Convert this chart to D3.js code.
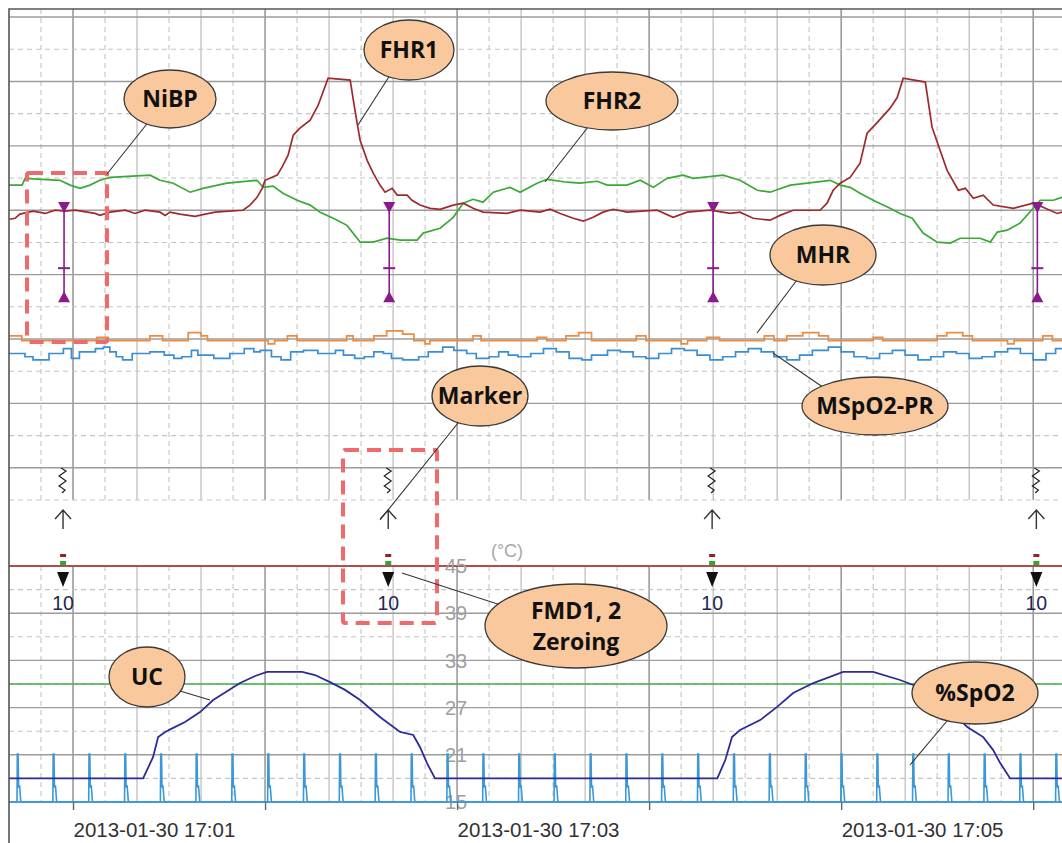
<!DOCTYPE html>
<html lang="en">
<head>
<meta charset="UTF-8">
<title>CTG trace</title>
<script src="https://cdn.jsdelivr.net/npm/d3@7"></script>
<style>
    body { margin: 0; background: #ffffff; }
    svg text { font-family: "Liberation Sans", Arial, sans-serif; }
    .callout text { font-family: "Open Sans", "Noto Sans", sans-serif; font-weight: 700; fill: #111111; }
</style>
</head>
<body>
<svg id="chart" width="1062" height="843"></svg>
<script>
    // time in seconds after 17:00:00, heart rates in bpm
    var FHR1 = [[40,147.2],[41.9,147.5],[43.4,148.8],[47.5,149.7],[51.3,149],[54.4,150],[57.5,149.7],[60.6,150],[66.9,149],[68.4,148.4],[71.6,149.4],[76.3,150],[79.4,149],[82.5,150],[87.2,149.4],[88.8,148.4],[90.3,149.4],[93.4,148.8],[98.1,148.1],[101.3,148.8],[104.4,149.4],[113.1,150],[115.3,151.6],[117.5,154],[119.1,156.8],[120,159.3],[123.8,160.9],[125.3,163.4],[127.2,167.1],[128.8,173.3],[130.9,175.5],[134.1,178],[136.6,182.6],[139.7,191],[146.6,190.4],[148.1,181],[149.7,171.7],[151.9,165.5],[153.8,161.5],[155.9,157.8],[157.5,155.6],[159.7,156.8],[161.3,154.7],[164.4,154.7],[165.9,153.1],[168.4,151.6],[171.6,150.6],[174.7,150.3],[178.8,151.6],[181.9,152.2],[185,150.6],[188.1,149.4],[195.6,149],[199.7,150],[205.9,149.4],[209.1,150.3],[212.2,149],[216.3,147.5],[219.4,146.6],[222.5,147.8],[225.6,149.4],[228.8,150.3],[233.1,149.4],[242.5,150],[247.5,147.8],[251.9,149.4],[259.1,150],[265.3,149],[268.4,149.4],[272.5,147.5],[277.8,146.9],[280.9,148.4],[285,150],[293.4,150],[295.6,152.2],[297.5,156.2],[299.7,158.4],[302.8,160.2],[305.9,164.6],[308.1,173.9],[311.3,177.3],[315.3,181.7],[317.5,185],[319.4,191],[326.3,189.8],[328.4,175.8],[330.9,168.6],[333.1,162.4],[336.6,156.2],[338.8,156.8],[341.3,153.7],[344.4,154.7],[347.5,151.6],[353.8,150.6],[360,152.2],[363.1,150.9],[367.5,149],[369,149.4]];

    var FHR2 = [[40,157.8],[44.1,157.8],[45,159.9],[55.9,159.3],[59.1,157.8],[62.2,156.8],[65.3,157.8],[68.4,159.3],[71.6,160.2],[84.1,160.9],[87.2,159.3],[91.3,158.4],[96.6,155.6],[100.6,156.8],[108.1,158.4],[117.5,159.3],[119.4,157.1],[122.5,157.5],[125.6,155.3],[130,153.1],[134.1,151.6],[137.2,149.4],[141.3,147.5],[145.6,145.3],[149.7,140.1],[153.8,140.1],[158.1,141.3],[162.2,140.7],[167.5,140.7],[169.4,142.9],[174.7,144.4],[178.8,147.8],[181.9,152.2],[185,153.4],[188.1,152.5],[191.3,155.6],[196.6,157.1],[199.7,155.6],[205,158.4],[208.1,159.6],[214.4,158.7],[218.4,158.4],[223.8,159],[226.9,157.8],[233.1,157.8],[237.2,159.3],[241.3,157.1],[245.6,159.9],[250.6,160.9],[253.8,159.9],[263.1,160.9],[268.4,159.3],[273.8,156.2],[277.8,155.6],[284.1,157.8],[289.4,158.4],[296.6,159.3],[299.7,157.8],[302.8,157.1],[305.9,155.3],[310,153.1],[315.3,150.6],[318.4,149],[322.2,147.5],[325.6,142.9],[330,140.1],[334.1,139.8],[337.2,141.3],[343.4,141.3],[346.6,140.1],[348.8,143.2],[351.9,143.8],[355.9,146],[360,150.6],[362.2,153.1],[366.3,153.1],[369,154]];

    var MHR = [[40,111],[44,109.5],[67.5,110.5],[71,109.5],[84,111],[88,109.5],[96,112],[100,111],[102,109.5],[121,108.5],[123,109.5],[127,111],[130,109.5],[145.5,111],[147.5,109.5],[154,111],[158,112.5],[163,111.5],[166.5,109.5],[170,108.5],[171.5,109.5],[185,111],[187.5,109.5],[205,110.5],[208,109.5],[214,111],[218,112],[222,109.5],[236,111],[239,109.5],[250,108.5],[252,109.5],[258,110.5],[262,109.5],[276,111],[279,109.5],[283,111],[288,112],[293,111],[296,109.5],[310,110.5],[313,109.5],[330,111],[333,112],[338,111],[341,109.5],[352,108.5],[354,109.5],[363,111],[366,109.5],[369,109.5]];

    var SPO2_PR = [[40,105.5],[45,104.5],[47.5,103.5],[52.5,105.5],[57,107],[59.5,104],[62,106],[67,107],[69.5,107.5],[71.5,106],[73.5,104.5],[75.5,103.5],[78.5,105.5],[84,106],[88.5,105],[91.5,104],[94,104.5],[97,106.5],[99,105],[104,104],[109,105.5],[113.5,107],[116.5,106],[118.5,106.5],[122,104.5],[125,103.5],[128,106],[132,106.5],[136.5,105.5],[142,106.5],[144.5,105],[148,104],[151,104.5],[154,106],[157,105.5],[159.5,104],[163,103.5],[168,104.5],[171,106],[175.5,107.5],[179,106.5],[183,105.5],[186,104],[190,104.5],[193,106],[196,105],[199,104.5],[203,105.5],[207,107],[211,106],[215,104],[219,103.5],[222,105],[227,106.5],[231,106],[235,104.5],[239,104],[243,105.5],[247,107],[251,106.5],[255,105],[259,103.5],[263,104.5],[267,106],[271,107],[275,106],[279,104.5],[283,103.5],[287,105],[291,106.5],[296,107.5],[300,106],[304,104.5],[308,104],[312,105.5],[316,106.5],[320,105],[324,103.5],[328,104.5],[332,106],[336,105.5],[340,104],[344,104.5],[348,106],[352,107],[356,105.5],[360,103.5],[364,105.5],[367,107],[369,107]];

    // uterine contraction (0-100)
    var UC = [[40,10],[81.9,10],[83.4,14.4],[85,19],[86.6,27.5],[88.8,29.7],[91.3,31.4],[95,33.9],[99.7,38.1],[103.8,43.2],[112.2,50.4],[116.9,53.4],[120.6,55.1],[131.6,55.1],[135.6,53.8],[140.3,50.8],[145,47.5],[149.7,43.2],[155.9,36],[162.2,29.7],[166.3,28.4],[168.4,23.3],[170.6,16.5],[173.1,10],[261.3,10],[263.8,17.8],[265.9,27.5],[268.4,30.5],[274.7,34.7],[280,40.3],[285,46.2],[291.3,50.4],[300.6,55.1],[310,55.1],[318.4,51.7],[322.5,49.6],[330.9,43.2],[339.4,31.8],[344.4,27.5],[347.5,22],[349.7,16.5],[352.8,10],[369,10]];

    // %SpO2 pleth beats (start times) and shape of one beat
    var BEATS = [42.5,53.7,64.9,76.1,87.3,98.4,109.6,120.8,132.0,143.2,154.4,165.6,176.8,188.0,199.2,210.3,221.5,232.7,243.9,255.1,266.3,277.5,288.7,299.9,311.1,322.3,333.4,344.6,355.8,367.0];
    var BEAT_SHAPE = [[0,0],[0.1,100],[0.35,100],[0.5,30],[0.8,35],[1.2,0]];

    // NiBP readings
    var NIBP_TIMES = [57.2, 158.8, 260, 361.3];
    var NIBP_SYS = [151, 151, 151, 151];
    var NIBP_MAP = [132, 132, 132, 132];
    var NIBP_DIA = [123, 123, 123, 123];

    // event markers / FMD zeroing
    var MARK_TIMES = [57.2, 158.8, 260, 361.3];
    var MARK_LABELS = ["10", "10", "10", "10"];

    var TEMP_TICKS = [45, 39, 33, 27, 21, 15];
    var TEMP_LIMITS = [45, 30];
    var TIME_LABEL_TICKS = [60, 180, 300];

    var CALLOUTS = [
        {lines: ["NiBP"], cx: 170, cy: 99, rx: 46, ry: 29, from: [150, 120], to: [107, 174]},
        {lines: ["FHR1"], cx: 409, cy: 50, rx: 45, ry: 30, from: [392, 72], to: [358, 125]},
        {lines: ["FHR2"], cx: 612, cy: 101, rx: 66, ry: 29, from: [592, 122], to: [545, 182]},
        {lines: ["MHR"], cx: 823, cy: 255, rx: 53, ry: 30, from: [800, 276], to: [757, 333]},
        {lines: ["MSpO2-PR"], cx: 875, cy: 406, rx: 73, ry: 29, from: [830, 392], to: [773, 353]},
        {lines: ["Marker"], cx: 480, cy: 396, rx: 48, ry: 30, from: [462, 418], to: [380, 520]},
        {lines: ["FMD1, 2", "Zeroing"], cx: 576, cy: 626, rx: 91, ry: 42, from: [510, 608], to: [402, 573]},
        {lines: ["UC"], cx: 147, cy: 677, rx: 38, ry: 30, from: [170, 688], to: [210, 700]},
        {lines: ["%SpO2"], cx: 975, cy: 693, rx: 63, ry: 31, from: [952, 715], to: [910, 765]}
    ];

    var LEFT = 9, RIGHT = 1062, TOP = 9, UP_BOTTOM = 500, LOW_TOP = 566, LOW_BOTTOM = 802;

    var svg = d3.select("#chart");

    var x = d3.scaleLinear().domain([40, 369]).range([LEFT, RIGHT]);
    var yHR = d3.scaleLinear().domain([60, 212.5]).range([UP_BOTTOM, TOP]);
    var yTemp = d3.scaleLinear().domain([15, 45]).range([LOW_BOTTOM, LOW_TOP]);
    var yUC = d3.scaleLinear().domain([0, 100]).range([LOW_BOTTOM, LOW_TOP]);
    var yPleth = d3.scaleLinear().domain([0, 100]).range([LOW_BOTTOM, 754]);

    // ---- grid
    var grid = svg.append("g");
    var vTicks = d3.range(50, 370, 10);
    function vStyle(sel) {
        sel.attr("stroke", function(t){ return t % 60 === 0 ? "#8c8c8c" : (t % 20 === 0 ? "#b4b4b4" : "#c4c4c4"); })
           .attr("stroke-width", function(t){ return t % 60 === 0 ? 1.4 : 1.1; })
           .attr("stroke-dasharray", function(t){ return t % 20 === 0 ? null : "5,4"; });
    }
    [[TOP, UP_BOTTOM], [LOW_TOP, LOW_BOTTOM]].forEach(function(r){
        grid.append("g").selectAll("line").data(vTicks).enter().append("line")
            .attr("x1", x).attr("x2", x).attr("y1", r[0]).attr("y2", r[1])
            .call(vStyle);
    });

    var hrLines = d3.range(60, 211, 10);
    grid.append("g").selectAll("line").data(hrLines).enter().append("line")
        .attr("x1", LEFT).attr("x2", RIGHT)
        .attr("y1", yHR).attr("y2", yHR)
        .attr("stroke", function(v){ return v % 20 === 10 ? "#9c9c9c" : "#c4c4c4"; })
        .attr("stroke-width", function(v){ return v % 20 === 10 ? 1.4 : 1.1; })
        .attr("stroke-dasharray", function(v){ return v % 20 === 10 ? null : "5,4"; });

    var tempLines = d3.range(15, 46, 3);
    grid.append("g").selectAll("line").data(tempLines).enter().append("line")
        .attr("x1", LEFT).attr("x2", RIGHT)
        .attr("y1", yTemp).attr("y2", yTemp)
        .attr("stroke", function(v){ return (v - 15) % 6 === 0 ? "#9c9c9c" : "#c4c4c4"; })
        .attr("stroke-width", function(v){ return (v - 15) % 6 === 0 ? 1.4 : 1.1; })
        .attr("stroke-dasharray", function(v){ return (v - 15) % 6 === 0 ? null : "5,4"; });

    // temperature limit lines
    svg.append("g").selectAll("line").data(TEMP_LIMITS).enter().append("line")
        .attr("x1", LEFT).attr("x2", RIGHT)
        .attr("y1", yTemp).attr("y2", yTemp)
        .attr("stroke", function(d, i){ return i === 0 ? "#b02a2a" : "#3cb043"; })
        .attr("stroke-width", 1.6);

    // temperature axis labels
    svg.append("g").selectAll("text").data(TEMP_TICKS).enter().append("text")
        .attr("x", 456).attr("y", yTemp).attr("dy", "0.36em")
        .attr("text-anchor", "middle")
        .style("font-size", "20px").style("fill", "#a0a0a0")
        .text(function(d){ return d; });
    svg.append("text").attr("x", 507).attr("y", 557).attr("text-anchor", "middle")
        .style("font-size", "18px").style("fill", "#a8a8a8").text("(°C)");

    // ---- lower panel: pleth + UC
    var plethPts = [[40, 0]];
    BEATS.forEach(function(b){
        BEAT_SHAPE.forEach(function(p){ plethPts.push([b + p[0], p[1]]); });
    });
    plethPts.push([369, 0]);
    svg.append("line").attr("x1", LEFT).attr("x2", RIGHT)
        .attr("y1", yPleth(0)).attr("y2", yPleth(0))
        .attr("stroke", "#4aa3e0").attr("stroke-width", 2.2);
    svg.append("path").datum(plethPts)
        .attr("d", d3.line().x(function(d){ return x(d[0]); }).y(function(d){ return yPleth(d[1]); }))
        .attr("fill", "none").attr("stroke", "#3c97d8").attr("stroke-width", 1.6);

    svg.append("path").datum(UC)
        .attr("d", d3.line().x(function(d){ return x(d[0]); }).y(function(d){ return yUC(d[1]); }))
        .attr("fill", "none").attr("stroke", "#2c2c96").attr("stroke-width", 1.8);

    // ---- upper panel traces
    var hrLine = d3.line().x(function(d){ return x(d[0]); }).y(function(d){ return yHR(d[1]); });
    var hrStep = d3.line().curve(d3.curveStepAfter).x(function(d){ return x(d[0]); }).y(function(d){ return yHR(d[1]); });

    svg.append("path").datum(MHR).attr("d", hrStep)
        .attr("fill", "none").attr("stroke", "#f08a3c").attr("stroke-width", 1.7);
    svg.append("path").datum(SPO2_PR).attr("d", hrStep)
        .attr("fill", "none").attr("stroke", "#3a8fd4").attr("stroke-width", 1.7);
    svg.append("path").datum(FHR2).attr("d", hrLine)
        .attr("fill", "none").attr("stroke", "#3aaa35").attr("stroke-width", 1.7);
    svg.append("path").datum(FHR1).attr("d", hrLine)
        .attr("fill", "none").attr("stroke", "#9e2a2e").attr("stroke-width", 1.7);

    // NiBP
    var nibp = svg.append("g").selectAll("g").data(NIBP_TIMES).enter().append("g")
        .attr("transform", function(t){ return "translate(" + x(t) + ",0)"; });
    var NIBP_COLOR = "#8b1a8f";
    nibp.append("line").attr("x1", 0).attr("x2", 0)
        .attr("y1", function(d, i){ return yHR(NIBP_SYS[i]); })
        .attr("y2", function(d, i){ return yHR(NIBP_DIA[i]); })
        .attr("stroke", NIBP_COLOR).attr("stroke-width", 1.6);
    nibp.append("path")
        .attr("d", function(d, i){ var y = yHR(NIBP_SYS[i]); return "M-6," + (y - 5) + "L6," + (y - 5) + "L0," + (y + 6) + "Z"; })
        .attr("fill", NIBP_COLOR);
    nibp.append("path")
        .attr("d", function(d, i){ var y = yHR(NIBP_DIA[i]); return "M-6," + (y + 5) + "L6," + (y + 5) + "L0," + (y - 6) + "Z"; })
        .attr("fill", NIBP_COLOR);
    nibp.append("line").attr("x1", -6).attr("x2", 6)
        .attr("y1", function(d, i){ return yHR(NIBP_MAP[i]); })
        .attr("y2", function(d, i){ return yHR(NIBP_MAP[i]); })
        .attr("stroke", NIBP_COLOR).attr("stroke-width", 2);

    // event markers
    var marks = svg.append("g").selectAll("g").data(MARK_TIMES).enter().append("g")
        .attr("transform", function(t){ return "translate(" + (x(t) - 1) + ",0)"; });
    marks.append("path")
        .attr("d", "M-2,468 L3,471 L-4,476 L3,481 L-4,486 L2,490 L-1,493")
        .attr("fill", "none").attr("stroke", "#222").attr("stroke-width", 1.2);
    marks.append("path")
        .attr("d", "M0,529 L0,510 M-8,519 L0,510 L8,519")
        .attr("fill", "none").attr("stroke", "#333").attr("stroke-width", 1.4);
    marks.append("rect").attr("x", -3).attr("y", 554).attr("width", 6).attr("height", 3).attr("fill", "#9a2020");
    marks.append("rect").attr("x", -3).attr("y", 561).attr("width", 6).attr("height", 4).attr("fill", "#2fa82f");
    marks.append("path").attr("d", "M-6,572 L6,572 L0,587 Z").attr("fill", "#111");
    marks.append("text").attr("x", 0).attr("y", 610).attr("text-anchor", "middle")
        .style("font-size", "19.5px").style("fill", "#1c2850")
        .text(function(d, i){ return MARK_LABELS[i]; });

    // ---- time axis
    var base = new Date(2013, 0, 30, 17, 0, 0);
    var fmt = d3.timeFormat("%Y-%m-%d %H:%M");
    var axis = svg.append("g").attr("transform", "translate(0," + LOW_BOTTOM + ")")
        .call(d3.axisBottom(x).tickValues(d3.range(60, 370, 60)).tickSize(8)
            .tickFormat(function(t){ return TIME_LABEL_TICKS.indexOf(t) >= 0 ? fmt(new Date(+base + t * 1000)) : ""; }));
    axis.select(".domain").remove();
    axis.selectAll(".tick line").attr("stroke", "#666").attr("stroke-width", 1.4);
    axis.selectAll(".tick text").attr("text-anchor", "start").attr("y", 20)
        .style("font-size", "20.5px").style("fill", "#333").style("font-family", "'Liberation Sans', Arial, sans-serif");

    // frame
    svg.append("path").attr("d", "M" + LEFT + ",843 L" + LEFT + "," + TOP + " L" + RIGHT + "," + TOP)
        .attr("fill", "none").attr("stroke", "#555").attr("stroke-width", 1.6);

    // highlight boxes
    var boxes = [[27, 173, 107, 342], [343, 450, 437, 623]];
    svg.append("g").selectAll("rect").data(boxes).enter().append("rect")
        .attr("x", function(b){ return b[0]; }).attr("y", function(b){ return b[1]; })
        .attr("width", function(b){ return b[2] - b[0]; }).attr("height", function(b){ return b[3] - b[1]; })
        .attr("rx", 2)
        .attr("fill", "none").attr("stroke", "#ef6a6a").attr("stroke-width", 4)
        .attr("stroke-dasharray", "14,8");

    // callouts
    var co = svg.append("g").attr("class", "callout").selectAll("g").data(CALLOUTS).enter().append("g");
    co.append("line")
        .attr("x1", function(d){ return d.from[0]; }).attr("y1", function(d){ return d.from[1]; })
        .attr("x2", function(d){ return d.to[0]; }).attr("y2", function(d){ return d.to[1]; })
        .attr("stroke", "#333").attr("stroke-width", 1.1);
    co.append("ellipse")
        .attr("cx", function(d){ return d.cx; }).attr("cy", function(d){ return d.cy; })
        .attr("rx", function(d){ return d.rx; }).attr("ry", function(d){ return d.ry; })
        .attr("fill", "#f9c89c").attr("stroke", "#3a3a3a").attr("stroke-width", 1.3);
    co.each(function(d){
        var g = d3.select(this);
        var n = d.lines.length;
        d.lines.forEach(function(l, i){
            g.append("text").attr("x", d.cx)
                .attr("y", d.cy + (i - (n - 1) / 2) * 31)
                .attr("dy", "0.36em").attr("text-anchor", "middle")
                .style("font-size", "23px").text(l);
        });
    });
</script>
</body>
</html>
